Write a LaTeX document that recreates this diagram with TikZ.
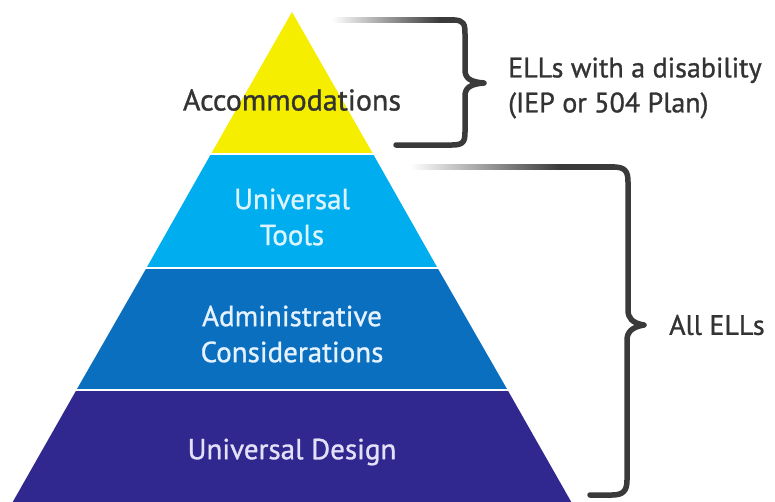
\documentclass[tikz,border=0pt]{standalone}
\usepackage{fontspec}
\setmainfont{PT Sans}
\newfontfamily\semib[BoldFont={PT Sans},BoldFeatures={FakeBold=1.0}]{PT Sans}
\definecolor{ylw}{HTML}{F5EE00}
\definecolor{cyn}{HTML}{00AEEF}
\definecolor{blu}{HTML}{0A6FBF}
\definecolor{prp}{HTML}{30288F}
\definecolor{brc}{HTML}{3A3A3A}
\definecolor{txtdark}{HTML}{333333}
\definecolor{tcyn}{HTML}{DDF4FF}
\definecolor{tblu}{HTML}{E6F2FF}
\definecolor{tprp}{HTML}{E4E0F8}
\begin{document}
\begin{tikzpicture}[x=1pt,y=-1pt,
  lbl/.style={font=\semib\bfseries\fontsize{29}{36}\selectfont, align=center, inner sep=0pt},
  side/.style={font=\semib\bfseries\fontsize{28}{35}\selectfont, align=left, inner sep=0pt, text=txtdark, anchor=west},
  bracel/.style={draw=brc, line width=5.5pt, line cap=round, line join=round},
  sep/.style={draw=white, line width=2pt}]
\useasboundingbox (0,0) rectangle (775,501);
% pyramid layers (apex 292,12 ; bottom 13..573 at 501)
\coordinate (apex) at (292,12);
\fill[ylw] (292,12) -- (372.5,153) -- (211.5,153) -- cycle;
\fill[cyn] (211.5,153) -- (372.5,153) -- (437,267) -- (147,267) -- cycle;
\fill[blu] (147,267) -- (437,267) -- (507,389) -- (77,389) -- cycle;
\fill[prp] (77,389) -- (507,389) -- (573,505) -- (11,505) -- cycle;
\draw[sep] (205,154) -- (380,154);
\draw[sep] (140,267.5) -- (445,267.5);
\draw[sep] (70,389.5) -- (515,389.5);
% labels
\node[lbl, text=txtdark, font=\semib\bfseries\fontsize{30}{36}\selectfont] (acc) at (292,100) {Accommodations};
\node[lbl, text=tcyn] (ut) at (292,217) {Universal\\Tools};
\node[lbl, text=tblu] (ac) at (292,334) {Administrative\\Considerations};
\node[lbl, text=tprp] (ud) at (292,452) {Universal Design};
% brace 1
\shade[left color=white, right color=brc] (332,17.5) rectangle (440,22.5);
\draw[bracel, line cap=butt] (439,20) -- (455,20);
\draw[bracel] (453,20) .. controls (464,20) and (465,24) .. (465,34) -- (465,70)
  .. controls (465,78) and (470,82) .. (484,83)
  .. controls (470,84) and (465,88) .. (465,96) -- (465,132)
  .. controls (465,142) and (463,145) .. (452,145) -- (396,145);
\node[side] (d1) at (508,88) {ELLs with a disability\\(IEP or 504 Plan)};
% brace 2
\shade[left color=white, right color=brc] (410,164.5) rectangle (560,169.5);
\draw[bracel, line cap=butt] (559,167) -- (615,167);
\draw[bracel] (613,167) .. controls (625,167) and (628,171) .. (628,182) -- (628,310)
  .. controls (628,318) and (632,323) .. (644,325)
  .. controls (632,327) and (627,332) .. (627,340) -- (627,480)
  .. controls (627,491) and (623,495) .. (612,495) -- (590,495);
\node[side] (d2) at (669,325) {All ELLs};
\end{tikzpicture}
\end{document}
